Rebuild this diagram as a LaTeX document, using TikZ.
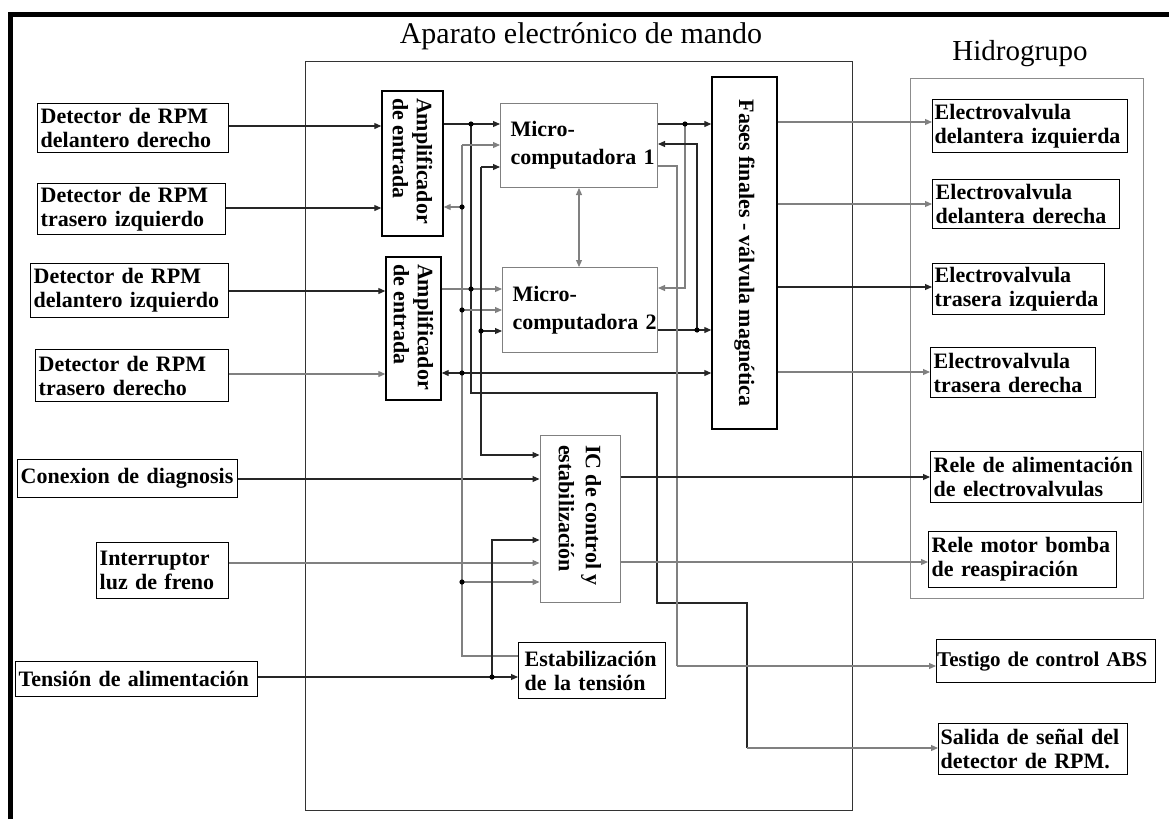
\documentclass[tikz,border=0pt]{standalone}
\usepackage{fontspec}
\setmainfont{Liberation Serif}
\usetikzlibrary{arrows.meta}
\tikzset{
  bx/.style={draw=black, line width=1.4pt, inner xsep=3pt, inner ysep=0pt, align=left, anchor=north west, font=\bfseries\fontsize{22}{24}\selectfont},
  lbx/.style={bx, draw=black!50, line width=1pt},
  rbx/.style={draw=black, line width=1.4pt, inner sep=0pt, anchor=center, font=\bfseries\fontsize{22}{24}\selectfont},
  wire/.style={draw=black!85, line width=1.1pt},
  gwire/.style={draw=black!50, line width=1.1pt},
  arr/.style={-{Triangle[length=7pt,width=6pt]}},
  darr/.style={{Triangle[length=7pt,width=6pt]}-{Triangle[length=7pt,width=6pt]}},
  ttl/.style={anchor=base, inner sep=0pt}
}
\begin{document}
\begin{tikzpicture}[x=1pt,y=-1pt]
\useasboundingbox (0,0) rectangle (1169,819);
% outer frame
\draw[line width=5pt] (10,819) -- (10,14) -- (1169,14);
% titles
\node[ttl, font=\fontsize{30}{32}\selectfont] (T1) at (581,43) {Aparato electrónico de mando};
\node[ttl, font=\fontsize{29}{32}\selectfont] (T2) at (1020,60) {Hidrogrupo};
% group boxes
\node[draw=black!80, line width=1.2pt, minimum width=547pt, minimum height=749pt, anchor=north west, inner sep=0pt] (CU) at (305,61) {};
\node[draw=black!45, line width=1.2pt, minimum width=233pt, minimum height=520pt, anchor=north west, inner sep=0pt] (HG) at (910,78) {};
% left boxes
\node[bx, minimum width=191pt, minimum height=49pt, text width=185pt] (L1) at (37,103) {Detector de RPM\\delantero derecho};
\node[bx, minimum width=188pt, minimum height=51pt, text width=182pt] (L2) at (37,183) {Detector de RPM\\trasero izquierdo};
\node[bx, minimum width=198pt, minimum height=54pt, text width=192pt] (L3) at (30,263) {Detector de RPM\\delantero izquierdo};
\node[bx, minimum width=193pt, minimum height=52pt, text width=187pt] (L4) at (35,349) {Detector de RPM\\trasero derecho};
\node[bx, minimum width=220pt, minimum height=38pt, text width=214pt] (L5) at (17,459) {Conexion de diagnosis};
\node[bx, minimum width=132pt, minimum height=56pt, text width=126pt] (L6) at (96,542) {Interruptor\\luz de freno};
\node[bx, minimum width=242pt, minimum height=35pt, text width=236pt] (L7) at (15,661) {Tensión de alimentación};
% right boxes
\node[bx, minimum width=195pt, minimum height=53pt, text width=191pt, inner xsep=2pt] (R1) at (932,99) {Electrovalvula\\delantera izquierda};
\node[bx, minimum width=187pt, minimum height=49pt, text width=181pt] (R2) at (932,179) {Electrovalvula\\delantera derecha};
\node[bx, minimum width=172pt, minimum height=51pt, text width=168pt, inner xsep=2pt] (R3) at (932,263) {Electrovalvula\\trasera izquierda};
\node[bx, minimum width=165pt, minimum height=50pt, text width=159pt] (R4) at (930,347) {Electrovalvula\\trasera derecha};
\node[bx, minimum width=211pt, minimum height=51pt, text width=205pt] (R5) at (930,451) {Rele de alimentación\\de electrovalvulas};
\node[bx, minimum width=188pt, minimum height=56pt, text width=182pt] (R6) at (928,531) {Rele motor bomba\\de reaspiración};
\node[bx, minimum width=219pt, minimum height=43pt, text width=218pt, inner xsep=0.5pt, font=\bfseries\fontsize{21}{24}\selectfont] (R7) at (936,639) {Testigo de control ABS};
\node[bx, minimum width=189pt, minimum height=51pt, text width=185pt, inner xsep=2pt] (R8) at (938,723) {Salida de señal del\\detector de RPM.};
% inner blocks
\node[rbx, minimum width=61pt, minimum height=145pt] (A1) at (412.5,163.5) {\rotatebox{-90}{\parbox{131pt}{\raggedright Amplificador\\de entrada}}};
\node[rbx, minimum width=55pt, minimum height=143pt] (A2) at (413.5,328.5) {\rotatebox{-90}{\parbox{129pt}{\raggedright Amplificador\\de entrada}}};
\node[lbx, minimum width=157pt, minimum height=84pt, text width=151pt, inner xsep=3pt, font=\bfseries\fontsize{22}{28}\selectfont] (M1) at (500,103) {\hspace*{7pt}\mbox{Micro-}\\\hspace*{7pt}\mbox{computadora 1}};
\node[lbx, minimum width=155pt, minimum height=85pt, text width=149pt, inner xsep=3pt, font=\bfseries\fontsize{22}{28}\selectfont] (M2) at (502,267) {\hspace*{7pt}\mbox{Micro-}\\\hspace*{7pt}\mbox{computadora 2}};
\node[rbx, minimum width=65pt, minimum height=352pt] (F) at (744.5,253) {\rotatebox{-90}{\parbox{340pt}{\centering Fases finales - válvula magnética}}};
\node[rbx, draw=black!50, line width=1pt, minimum width=80pt, minimum height=167pt, font=\bfseries\fontsize{22}{27}\selectfont] (IC) at (580,518.5) {\rotatebox{-90}{\parbox{147pt}{\raggedright IC de control y\\estabilización}}};
\node[bx, minimum width=147pt, minimum height=56pt, text width=135pt, inner xsep=6pt] (ES) at (518,642) {Estabilización\\de la tensión};
% level coordinates
\coordinate (y122) at (0,122);
\coordinate (y126) at (0,126);
\coordinate (y204) at (0,204);
\coordinate (y208) at (0,208);
\coordinate (y287) at (0,287);
\coordinate (y291) at (0,291);
\coordinate (y372) at (0,372);
\coordinate (y374) at (0,374);
\coordinate (y477) at (0,477);
\coordinate (y479) at (0,479);
\coordinate (y562) at (0,562);
\coordinate (y563) at (0,563);
\coordinate (b1) at (579,0);
% junctions and corners
\coordinate (j1) at (471,124);
\coordinate (j2) at (471,289);
\coordinate (c1) at (471,393);
\coordinate (c2) at (657,393);
\coordinate (c3) at (657,603);
\coordinate (c4) at (747,603);
\coordinate (c5) at (747,748);
\coordinate (s0) at (462,656);
\coordinate (s1) at (462,145);
\coordinate (s2) at (462,207);
\coordinate (s3) at (462,310);
\coordinate (s4) at (462,373);
\coordinate (s5) at (462,582);
\coordinate (i1) at (481,167);
\coordinate (i2) at (481,331);
\coordinate (i3) at (481,455);
\coordinate (k1) at (685,124);
\coordinate (k2) at (685,288);
\coordinate (k3) at (697,330);
\coordinate (k4) at (697,144);
\coordinate (t1) at (677,166);
\coordinate (t2) at (677,666);
\coordinate (v1) at (492,677);
\coordinate (v2) at (492,540);
% inputs from left
\draw[wire,arr] (L1.east |- y126) -- (A1.west |- y126);
\draw[wire,arr] (L2.east |- y208) -- (A1.west |- y208);
\draw[wire,arr] (L3.east |- y291) -- (A2.west |- y291);
\draw[gwire,arr] (L4.east |- y374) -- (A2.west |- y374);
\draw[wire,arr] (L5.east |- y479) -- (IC.west |- y479);
\draw[gwire,arr] (L6.east |- y563) -- (IC.west |- y563);
\draw[wire,arr] (L7.east |- v1) -- (ES.west |- v1);
% amplifier outputs
\draw[wire,arr] (A1.east |- j1) -- (M1.west |- j1);
\draw[wire] (j1) -- (c1) -- (c2) -- (c3) -- (c4) -- (c5);
\draw[gwire,arr] (c5) -- (R8.west |- c5);
\draw[gwire,arr] (A2.east |- j2) -- (M2.west |- j2);
% stabilised supply
\draw[gwire] (ES.west |- s0) -- (s0) -- (s1);
\draw[gwire,arr] (s1) -- (M1.west |- s1);
\draw[gwire,arr] (s2) -- (A1.east |- s2);
\draw[gwire,arr] (s3) -- (M2.west |- s3);
\draw[wire,arr] (s4) -- (A2.east |- s4);
\draw[wire,arr] (s4) -- (F.west |- s4);
\draw[gwire,arr] (s5) -- (IC.west |- s5);
% IC link to micros
\draw[wire,arr] (i1) -- (M1.west |- i1);
\draw[wire,arr] (i1) -- (i3) -- (IC.west |- i3);
\draw[wire,arr] (i2) -- (M2.west |- i2);
% micro outputs
\draw[wire,arr] (M1.east |- k1) -- (F.west |- k1);
\draw[gwire,arr] (k1) -- (k2) -- (M2.east |- k2);
\draw[wire,arr] (M2.east |- k3) -- (F.west |- k3);
\draw[wire,arr] (k3) -- (k4) -- (M1.east |- k4);
\draw[gwire] (M1.east |- t1) -- (t1) -- (t2);
\draw[gwire,arr] (t2) -- (R7.west |- t2);
\draw[gwire,darr] (M1.south -| b1) -- (M2.north -| b1);
% final stage outputs
\draw[gwire,arr] (F.east |- y122) -- (R1.west |- y122);
\draw[gwire,arr] (F.east |- y204) -- (R2.west |- y204);
\draw[wire,arr] (F.east |- y287) -- (R3.west |- y287);
\draw[gwire,arr] (F.east |- y372) -- (R4.west |- y372);
\draw[wire,arr] (IC.east |- y477) -- (R5.west |- y477);
\draw[gwire,arr] (IC.east |- y562) -- (R6.west |- y562);
% supply to IC
\draw[wire,arr] (v1) -- (v2) -- (IC.west |- v2);
% junction dots
\foreach \p in {j1,j2,s2,s3,s4,s5,i2,k1,k3,v1}
  \fill (\p) circle (2.6pt);
\end{tikzpicture}
\end{document}
